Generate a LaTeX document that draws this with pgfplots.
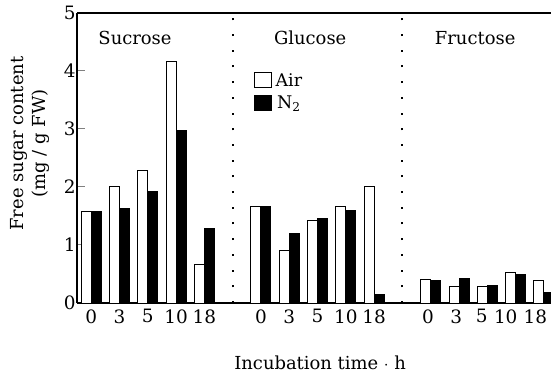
\documentclass[border=0pt]{standalone}
\usepackage{fontspec}
\setmainfont{DejaVu Serif}
\usepackage{pgfplots}
\pgfplotsset{compat=1.18}
\begin{document}
\begin{tikzpicture}
\begin{axis}[
  at={(77bp,72bp)}, anchor=south west,
  width=474bp, height=290bp, scale only axis,
  xmin=-0.5, xmax=16.25, ymin=0, ymax=5,
  axis x line=box, axis y line=left,
  axis line style={-, line width=1.6bp},
  ytick={0,1,2,3,4,5},
  ytick pos=left,
  tick align=inside,
  major tick length=8bp,
  ytick style={line width=1bp},
  xtick={0,1,2,3,4,6,7,8,9,10,11.9,12.9,13.8,14.65,15.7},
  xticklabels={0,3,5,10,18,0,3,5,10,18,0,3,5,10,18},
  xtick style={draw=none},
  xtick pos=bottom,
  /pgf/number format/assume math mode=true,
  ticklabel style={font=\fontsize{18.5}{21}\selectfont},
  yticklabel style={xshift=2bp},
  xticklabel style={yshift=-3bp},
  ylabel={Free sugar content\\(mg / g FW)},
  ylabel style={at={(axis description cs:-0.10,0.55)}, anchor=center, align=center, font=\fontsize{18}{22}\selectfont},
  xlabel={Incubation time $\cdot$ h},
  xlabel style={at={(axis description cs:0.513,-0.207)}, anchor=center, font=\fontsize{18}{22}\selectfont},
  legend image code/.code={\draw[#1, line width=1.1bp] (0bp,-7.5bp) rectangle (17bp,7.5bp);},
  legend style={at={(axis description cs:0.372,0.80)}, anchor=north west, draw=none, fill=none,
    font=\fontsize{17.5}{20}\selectfont, row sep=4bp, inner sep=0pt,
    nodes={inner xsep=4bp}},
  clip=false,
]
\addplot[ybar, bar width=0.353, bar shift=-0.1765, draw=black, fill=white, line width=1bp]
 coordinates {(0,1.58) (1,2.00) (2,2.28) (3,4.16) (4,0.66)
              (6,1.67) (7,0.91) (8,1.43) (9,1.67) (10,2.00)
              (12,0.40) (13,0.29) (14,0.28) (15,0.53) (16,0.39)};
\addlegendentry{Air}
\addplot[ybar, bar width=0.353, bar shift=0.1765, draw=black, fill=black, line width=1bp]
 coordinates {(0,1.58) (1,1.63) (2,1.93) (3,2.98) (4,1.29)
              (6,1.67) (7,1.20) (8,1.46) (9,1.59) (10,0.14)
              (12,0.39) (13,0.43) (14,0.31) (15,0.49) (16,0.18)};
\addlegendentry{N\textsubscript{2}}
\addplot[forget plot, black, line width=2bp, dash pattern=on 2bp off 13.7bp] coordinates {(5,0) (5,5)};
\addplot[forget plot, black, line width=2bp, dash pattern=on 2bp off 13.7bp] coordinates {(11,0) (11,5)};
\node[font=\fontsize{18}{22}\selectfont] at (axis cs:1.55,4.57) {Sucrose};
\node[font=\fontsize{18}{22}\selectfont] at (axis cs:7.74,4.57) {Glucose};
\node[font=\fontsize{18}{22}\selectfont] at (axis cs:13.57,4.57) {Fructose};
\end{axis}
\pgfresetboundingbox
\path (0,0) rectangle (551bp,375bp);
\end{tikzpicture}
\end{document}
